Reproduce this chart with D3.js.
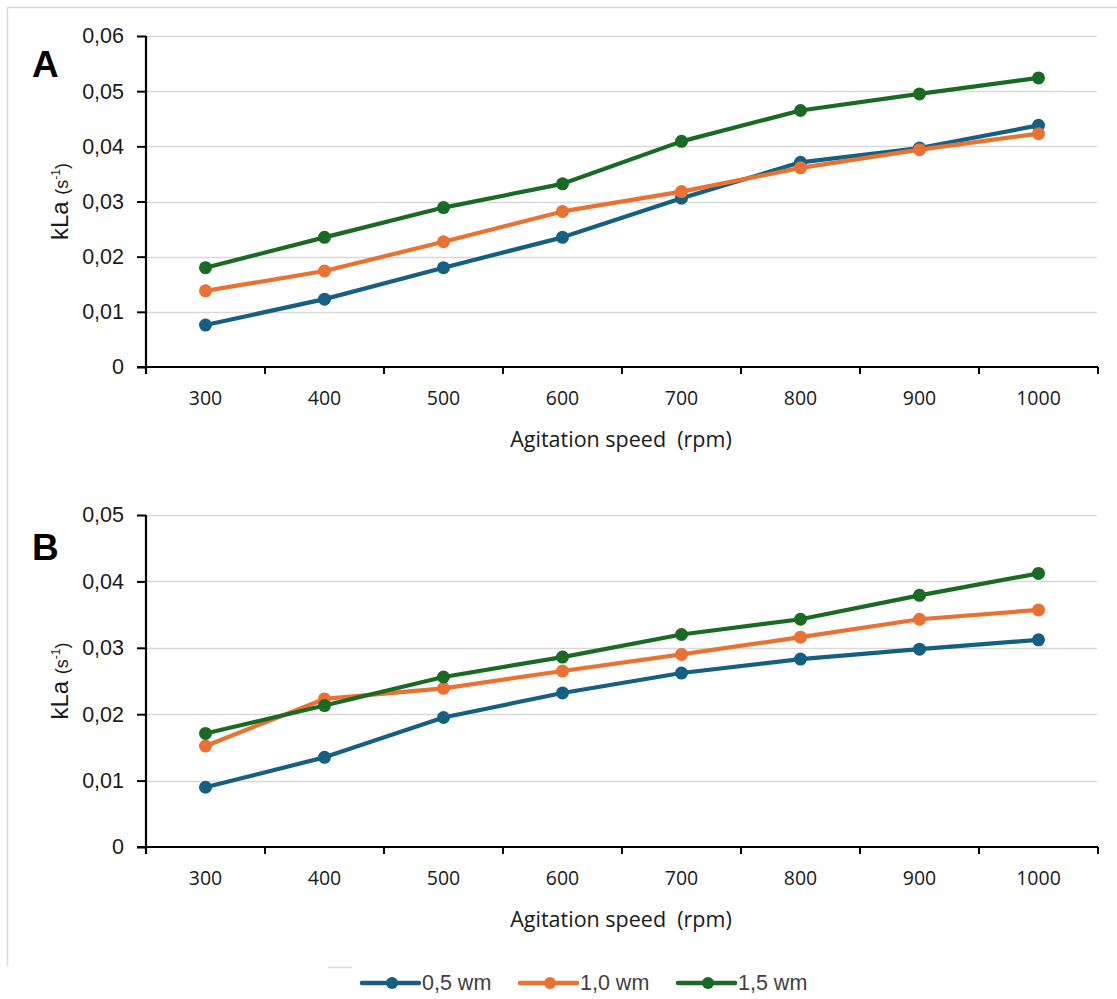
<!DOCTYPE html>
<html>
<head>
<meta charset="utf-8">
<script src="https://cdn.jsdelivr.net/npm/d3@7"></script>
<style>
  html, body { margin: 0; padding: 0; background: #fff; }
  svg { display: block; }
</style>
</head>
<body>
<svg id="chart" width="1117" height="999"></svg>
<script>
// Agitation speeds (rpm) shared by both panels
const speeds = [300, 400, 500, 600, 700, 800, 900, 1000];
const seriesNames = ["0,5 wm", "1,0 wm", "1,5 wm"];
const seriesColors = ["#156082", "#E97132", "#196B24"];

// Panel A: kLa (s-1)
const panelA_05 = [0.0076, 0.0123, 0.0180, 0.0235, 0.0306, 0.0371, 0.0397, 0.0438];
const panelA_10 = [0.0138, 0.0174, 0.0227, 0.0282, 0.0318, 0.0361, 0.0394, 0.0423];
const panelA_15 = [0.0180, 0.0235, 0.0289, 0.0332, 0.0409, 0.0465, 0.0495, 0.0524];
const panelA_yTicks = [0, 0.01, 0.02, 0.03, 0.04, 0.05, 0.06];

// Panel B: kLa (s-1)
const panelB_05 = [0.0090, 0.0135, 0.0195, 0.0232, 0.0262, 0.0283, 0.0298, 0.0312];
const panelB_10 = [0.0152, 0.0223, 0.0239, 0.0265, 0.0290, 0.0316, 0.0343, 0.0357];
const panelB_15 = [0.0171, 0.0213, 0.0256, 0.0286, 0.0320, 0.0343, 0.0379, 0.0412];
const panelB_yTicks = [0, 0.01, 0.02, 0.03, 0.04, 0.05];

const svg = d3.select("#chart");
const locale = d3.formatLocale({ decimal: ",", thousands: ".", grouping: [3], currency: ["", ""] });
const fmt2 = locale.format(".2f");
const yFormat = d => d === 0 ? "0" : fmt2(d);

// light frame lines
svg.append("line").attr("x1", 7.5).attr("x2", 7.5).attr("y1", 7).attr("y2", 966)
  .attr("stroke", "#d9d9d9").attr("stroke-width", 1.5);
svg.append("line").attr("x1", 7).attr("x2", 1117).attr("y1", 7.5).attr("y2", 7.5)
  .attr("stroke", "#d9d9d9").attr("stroke-width", 1.5);
svg.append("line").attr("x1", 328).attr("x2", 352).attr("y1", 967.5).attr("y2", 967.5)
  .attr("stroke", "#dcdcdc").attr("stroke-width", 1.5);

const x = d3.scaleBand().domain(speeds).range([146, 1098]).padding(0);

function drawPanel(cfg) {
  const y = d3.scaleLinear().domain([0, d3.max(cfg.yTicks)]).range([cfg.bottom, cfg.top]);
  const g = svg.append("g");

  // horizontal gridlines
  g.append("g").selectAll("line").data(cfg.yTicks.filter(d => d > 0)).join("line")
    .attr("x1", 146).attr("x2", 1097)
    .attr("y1", d => Math.round(y(d)) + 0.5).attr("y2", d => Math.round(y(d)) + 0.5)
    .attr("stroke", "#d9d9d9").attr("stroke-width", 1.5);

  // y axis
  const yAxis = g.append("g").attr("transform", "translate(146,0)")
    .call(d3.axisLeft(y).tickValues(cfg.yTicks).tickFormat(yFormat).tickSize(9).tickPadding(13));
  yAxis.select(".domain").remove();
  yAxis.selectAll(".tick line").attr("stroke", "#000").attr("stroke-width", 2);
  yAxis.selectAll(".tick text")
    .attr("font-family", "'Liberation Sans', Arial, sans-serif")
    .attr("font-size", 21.5).attr("fill", "#1a1a1a");
  g.append("line").attr("x1", 146).attr("x2", 146)
    .attr("y1", cfg.top).attr("y2", cfg.bottom + 7)
    .attr("stroke", "#000").attr("stroke-width", 2.2);

  // x axis: tick labels centred in each band, tick marks at band edges
  const xAxis = g.append("g").attr("transform", `translate(0,${cfg.bottom})`)
    .call(d3.axisBottom(x).tickSize(0).tickPadding(24));
  xAxis.select(".domain").remove();
  xAxis.selectAll(".tick text")
    .attr("font-family", "'Open Sans', sans-serif")
    .attr("font-size", 19.5).attr("fill", "#1a1a1a");
  const edges = speeds.map(s => x(s)).concat([x.range()[1]]);
  g.append("g").selectAll("line").data(edges).join("line")
    .attr("x1", d => d).attr("x2", d => d)
    .attr("y1", cfg.bottom).attr("y2", cfg.bottom + 7)
    .attr("stroke", "#000").attr("stroke-width", 2);
  g.append("line").attr("x1", 137).attr("x2", 1098)
    .attr("y1", cfg.bottom).attr("y2", cfg.bottom)
    .attr("stroke", "#000").attr("stroke-width", 2.2);

  // axis titles
  g.append("text").attr("x", 621).attr("y", cfg.bottom + 80)
    .attr("text-anchor", "middle")
    .attr("font-family", "'Open Sans', sans-serif").attr("font-size", 21.5)
    .attr("fill", "#1a1a1a").attr("xml:space", "preserve")
    .text("Agitation speed  (rpm)");

  const yt = g.append("text")
    .attr("transform", `translate(68,${(cfg.top + cfg.bottom) / 2}) rotate(-90)`)
    .attr("text-anchor", "middle")
    .attr("font-family", "'Liberation Sans', Arial, sans-serif")
    .attr("fill", "#1a1a1a");
  yt.append("tspan").attr("font-size", 24).text("kLa ");
  yt.append("tspan").attr("font-size", 18).text("(s");
  yt.append("tspan").attr("font-size", 12).attr("dy", -8).text("-1");
  yt.append("tspan").attr("font-size", 18).attr("dy", 8).text(")");

  // panel letter
  g.append("text").attr("x", 32).attr("y", cfg.letterY)
    .attr("font-family", "'Liberation Sans Narrow', 'Liberation Sans', Arial, sans-serif")
    .attr("font-weight", "bold").attr("font-size", 37).attr("fill", "#000")
    .text(cfg.letter);

  // series: line then markers, one series at a time
  const line = d3.line().x((d, i) => x(speeds[i]) + x.bandwidth() / 2).y(d => y(d));
  cfg.series.forEach((vals, si) => {
    const sg = g.append("g");
    sg.append("path").datum(vals)
      .attr("d", line).attr("fill", "none")
      .attr("stroke", seriesColors[si]).attr("stroke-width", 4.2)
      .attr("stroke-linejoin", "round");
    sg.selectAll("circle").data(vals).join("circle")
      .attr("cx", (d, i) => x(speeds[i]) + x.bandwidth() / 2)
      .attr("cy", d => y(d)).attr("r", 6.5)
      .attr("fill", seriesColors[si]);
  });
}

drawPanel({ top: 36, bottom: 367, yTicks: panelA_yTicks, letter: "A", letterY: 77,
            series: [panelA_05, panelA_10, panelA_15] });
drawPanel({ top: 515, bottom: 847, yTicks: panelB_yTicks, letter: "B", letterY: 560,
            series: [panelB_05, panelB_10, panelB_15] });

// legend
const legendX = [362, 520, 678];
const lg = svg.append("g");
seriesNames.forEach((name, i) => {
  const lx = legendX[i];
  lg.append("line").attr("x1", lx).attr("x2", lx + 57).attr("y1", 983).attr("y2", 983)
    .attr("stroke", seriesColors[i]).attr("stroke-width", 4.5).attr("stroke-linecap", "round");
  lg.append("circle").attr("cx", lx + 30).attr("cy", 983).attr("r", 6).attr("fill", seriesColors[i]);
  lg.append("text").attr("x", lx + 60).attr("y", 990)
    .attr("font-family", "'Liberation Sans', Arial, sans-serif")
    .attr("font-size", 21.5).attr("fill", "#404040")
    .text(name);
});
</script>
</body>
</html>
